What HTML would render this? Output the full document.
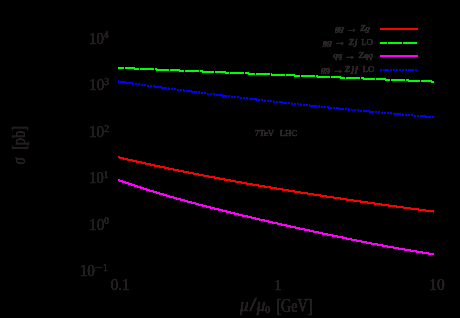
<!DOCTYPE html>
<html><head><meta charset="utf-8"><title>plot</title>
<style>
html,body{margin:0;padding:0;background:#000;}
body{width:460px;height:318px;overflow:hidden;position:relative;font-family:"Liberation Serif",serif;color:#231f20;}
.t{position:absolute;left:0;top:0;white-space:nowrap;line-height:1;transform-origin:0 0;-webkit-text-stroke:0.45px #231f20;}
.t sup{font-size:64%;vertical-align:baseline;position:relative;top:-0.5em;left:0.0em;line-height:0;}
.t sub{font-size:58%;vertical-align:baseline;position:relative;top:0.18em;line-height:0;}
i{font-style:italic}
.ar{display:inline-block;transform:scale(1.3,1.3);margin:0 0.12em 0 0.0em;font-weight:bold}
.sl{display:inline-block;transform:scaleX(1.5);margin:0 0.09em 0 0.12em}
.mn{display:inline-block;transform:scaleX(1.45);margin:0 0.16em 0 0.1em}
.lg i{font-weight:bold}
.lg{word-spacing:0.15em}
</style></head><body>
<svg width="460" height="318" viewBox="0 0 460 318" shape-rendering="crispEdges" style="position:absolute;left:0;top:0"><path fill="#00ff00" d="M118 67h6v2h-6zM125 67h9v2h-9zM134 67h1v3h-1zM135 68h4v2h-4zM140 68h14v2h-14zM155 68h1v2h-1zM156 68h1v3h-1zM157 69h12v2h-12zM170 69h9v2h-9zM179 69h1v3h-1zM180 70h4v2h-4zM185 70h14v2h-14zM200 70h2v2h-2zM202 70h1v3h-1zM203 71h11v2h-11zM215 71h10v2h-10zM225 71h1v3h-1zM226 72h3v2h-3zM230 72h14v2h-14zM245 72h3v2h-3zM248 72h1v3h-1zM249 73h6v2h-6zM256 73h14v2h-14zM271 73h1v3h-1zM272 74h13v2h-13zM286 74h8v2h-8zM294 74h1v3h-1zM295 75h5v2h-5zM301 75h14v2h-14zM316 75h1v2h-1zM317 75h1v3h-1zM318 76h12v2h-12zM331 76h9v2h-9zM340 76h1v3h-1zM341 77h4v2h-4zM346 77h14v2h-14zM361 77h2v2h-2zM363 77h1v3h-1zM364 78h11v2h-11zM376 78h9v2h-9zM385 78h1v3h-1zM386 79h4v2h-4zM391 79h14v2h-14zM406 79h2v2h-2zM408 79h1v3h-1zM409 80h11v2h-11zM421 80h10v2h-10zM431 80h1v3h-1zM432 81h2v2h-2z"/><path fill="#0000ff" d="M118 80h1v3h-1zM120 81h5v2h-5zM125 81h1v3h-1zM126 82h6v2h-6zM132 82h1v3h-1zM133 83h1v2h-1zM135 83h2v2h-2zM138 83h1v2h-1zM139 83h1v3h-1zM141 84h2v2h-2zM144 84h2v2h-2zM147 85h2v2h-2zM150 85h2v2h-2zM153 85h1v2h-1zM154 85h1v3h-1zM155 86h6v2h-6zM161 86h1v3h-1zM162 87h5v2h-5zM168 87h1v3h-1zM169 88h1v2h-1zM171 88h2v2h-2zM174 88h2v2h-2zM177 89h2v2h-2zM180 89h2v2h-2zM183 89h1v3h-1zM184 90h1v2h-1zM186 90h5v2h-5zM191 90h1v3h-1zM192 91h5v2h-5zM198 91h1v2h-1zM199 91h1v3h-1zM201 92h2v2h-2zM204 92h2v2h-2zM207 93h2v2h-2zM210 93h2v2h-2zM213 93h1v2h-1zM214 93h1v3h-1zM216 94h6v2h-6zM222 94h1v3h-1zM223 95h4v2h-4zM228 95h2v2h-2zM231 96h2v2h-2zM234 96h2v2h-2zM237 96h2v2h-2zM240 97h2v2h-2zM243 97h2v2h-2zM246 97h1v2h-1zM247 97h1v3h-1zM249 98h7v2h-7zM256 98h1v3h-1zM258 99h2v2h-2zM261 99h2v2h-2zM264 99h1v3h-1zM265 100h1v2h-1zM267 100h2v2h-2zM270 100h2v2h-2zM273 100h1v3h-1zM274 101h1v2h-1zM276 101h2v2h-2zM279 101h3v2h-3zM282 101h1v3h-1zM283 102h4v2h-4zM288 102h2v2h-2zM291 102h1v3h-1zM292 103h1v2h-1zM294 103h2v2h-2zM297 103h2v2h-2zM300 103h1v3h-1zM301 104h1v2h-1zM303 104h2v2h-2zM306 104h2v2h-2zM309 104h1v3h-1zM310 105h7v2h-7zM318 105h1v2h-1zM319 105h1v3h-1zM321 106h2v2h-2zM324 106h2v2h-2zM327 106h1v2h-1zM328 106h1v3h-1zM330 107h2v2h-2zM333 107h2v2h-2zM336 107h2v2h-2zM338 107h1v3h-1zM339 108h5v2h-5zM345 108h2v2h-2zM348 108h1v3h-1zM349 109h1v2h-1zM351 109h2v2h-2zM354 109h2v2h-2zM357 109h1v2h-1zM358 109h1v3h-1zM360 110h2v2h-2zM363 110h6v2h-6zM369 110h1v3h-1zM370 111h4v2h-4zM375 111h2v2h-2zM378 111h2v2h-2zM381 112h2v2h-2zM384 112h2v2h-2zM387 112h2v2h-2zM390 112h1v2h-1zM391 112h1v3h-1zM393 113h8v2h-8zM402 113h1v3h-1zM403 114h1v2h-1zM405 114h2v2h-2zM408 114h2v2h-2zM411 114h2v2h-2zM414 115h2v2h-2zM417 115h2v2h-2zM420 115h5v2h-5zM425 115h1v3h-1zM426 116h5v2h-5zM432 116h2v2h-2z"/><path fill="#ff0000" d="M118 156h1v2h-1zM119 156h1v3h-1zM120 157h3v2h-3zM123 157h1v3h-1zM124 158h3v2h-3zM127 158h1v3h-1zM128 159h4v2h-4zM132 159h1v3h-1zM133 160h3v2h-3zM136 160h1v3h-1zM137 161h4v2h-4zM141 161h1v3h-1zM142 162h3v2h-3zM145 162h1v3h-1zM146 163h4v2h-4zM150 163h1v3h-1zM151 164h3v2h-3zM154 164h1v3h-1zM155 165h4v2h-4zM159 165h1v3h-1zM160 166h4v2h-4zM164 166h1v3h-1zM165 167h3v2h-3zM168 167h1v3h-1zM169 168h4v2h-4zM173 168h1v3h-1zM174 169h4v2h-4zM178 169h1v3h-1zM179 170h4v2h-4zM183 170h1v3h-1zM184 171h4v2h-4zM188 171h1v3h-1zM189 172h4v2h-4zM193 172h1v3h-1zM194 173h4v2h-4zM198 173h1v3h-1zM199 174h4v2h-4zM203 174h1v3h-1zM204 175h4v2h-4zM208 175h1v3h-1zM209 176h5v2h-5zM214 176h1v3h-1zM215 177h4v2h-4zM219 177h1v3h-1zM220 178h4v2h-4zM224 178h1v3h-1zM225 179h5v2h-5zM230 179h1v3h-1zM231 180h4v2h-4zM235 180h1v3h-1zM236 181h5v2h-5zM241 181h1v3h-1zM242 182h4v2h-4zM246 182h1v3h-1zM247 183h5v2h-5zM252 183h1v3h-1zM253 184h5v2h-5zM258 184h1v3h-1zM259 185h5v2h-5zM264 185h1v3h-1zM265 186h5v2h-5zM270 186h1v3h-1zM271 187h5v2h-5zM276 187h1v3h-1zM277 188h5v2h-5zM282 188h1v3h-1zM283 189h5v2h-5zM288 189h1v3h-1zM289 190h5v2h-5zM294 190h1v3h-1zM295 191h5v2h-5zM300 191h1v3h-1zM301 192h6v2h-6zM307 192h1v3h-1zM308 193h5v2h-5zM313 193h1v3h-1zM314 194h6v2h-6zM320 194h1v3h-1zM321 195h5v2h-5zM326 195h1v3h-1zM327 196h6v2h-6zM333 196h1v3h-1zM334 197h6v2h-6zM340 197h1v3h-1zM341 198h5v2h-5zM346 198h1v3h-1zM347 199h6v2h-6zM353 199h1v3h-1zM354 200h6v2h-6zM360 200h1v3h-1zM361 201h6v2h-6zM367 201h1v3h-1zM368 202h6v2h-6zM374 202h1v3h-1zM375 203h6v2h-6zM381 203h1v3h-1zM382 204h6v2h-6zM388 204h1v3h-1zM389 205h7v2h-7zM396 205h1v3h-1zM397 206h6v2h-6zM403 206h1v3h-1zM404 207h6v2h-6zM410 207h1v3h-1zM411 208h7v2h-7zM418 208h1v3h-1zM419 209h6v2h-6zM425 209h1v3h-1zM426 210h7v2h-7zM433 210h1v3h-1z"/><path fill="#ff00ff" d="M118 179h1v2h-1zM119 179h1v3h-1zM120 180h2v2h-2zM122 180h1v3h-1zM123 181h2v2h-2zM125 181h1v3h-1zM126 182h2v2h-2zM128 182h1v3h-1zM129 183h2v2h-2zM131 183h1v3h-1zM132 184h2v2h-2zM134 184h1v3h-1zM135 185h2v2h-2zM137 185h1v3h-1zM138 186h2v2h-2zM140 186h1v3h-1zM141 187h2v2h-2zM143 187h1v3h-1zM144 188h2v2h-2zM146 188h1v3h-1zM147 189h2v2h-2zM149 189h1v3h-1zM150 190h3v2h-3zM153 190h1v3h-1zM154 191h2v2h-2zM156 191h1v3h-1zM157 192h2v2h-2zM159 192h1v3h-1zM160 193h3v2h-3zM163 193h1v3h-1zM164 194h2v2h-2zM166 194h1v3h-1zM167 195h2v2h-2zM169 195h1v3h-1zM170 196h3v2h-3zM173 196h1v3h-1zM174 197h2v2h-2zM176 197h1v3h-1zM177 198h3v2h-3zM180 198h1v3h-1zM181 199h3v2h-3zM184 199h1v3h-1zM185 200h2v2h-2zM187 200h1v3h-1zM188 201h3v2h-3zM191 201h1v3h-1zM192 202h3v2h-3zM195 202h1v3h-1zM196 203h2v2h-2zM198 203h1v3h-1zM199 204h3v2h-3zM202 204h1v3h-1zM203 205h3v2h-3zM206 205h1v3h-1zM207 206h3v2h-3zM210 206h1v3h-1zM211 207h3v2h-3zM214 207h1v3h-1zM215 208h3v2h-3zM218 208h1v3h-1zM219 209h3v2h-3zM222 209h1v3h-1zM223 210h3v2h-3zM226 210h1v3h-1zM227 211h3v2h-3zM230 211h1v3h-1zM231 212h3v2h-3zM234 212h1v3h-1zM235 213h3v2h-3zM238 213h1v3h-1zM239 214h3v2h-3zM242 214h1v3h-1zM243 215h4v2h-4zM247 215h1v3h-1zM248 216h3v2h-3zM251 216h1v3h-1zM252 217h3v2h-3zM255 217h1v3h-1zM256 218h3v2h-3zM259 218h1v3h-1zM260 219h4v2h-4zM264 219h1v3h-1zM265 220h3v2h-3zM268 220h1v3h-1zM269 221h3v2h-3zM272 221h1v3h-1zM273 222h4v2h-4zM277 222h1v3h-1zM278 223h3v2h-3zM281 223h1v3h-1zM282 224h4v2h-4zM286 224h1v3h-1zM287 225h3v2h-3zM290 225h1v3h-1zM291 226h4v2h-4zM295 226h1v3h-1zM296 227h3v2h-3zM299 227h1v3h-1zM300 228h4v2h-4zM304 228h1v3h-1zM305 229h4v2h-4zM309 229h1v3h-1zM310 230h3v2h-3zM313 230h1v3h-1zM314 231h4v2h-4zM318 231h1v3h-1zM319 232h3v2h-3zM322 232h1v3h-1zM323 233h4v2h-4zM327 233h1v3h-1zM328 234h4v2h-4zM332 234h1v3h-1zM333 235h4v2h-4zM337 235h1v3h-1zM338 236h4v2h-4zM342 236h1v3h-1zM343 237h3v2h-3zM346 237h1v3h-1zM347 238h4v2h-4zM351 238h1v3h-1zM352 239h4v2h-4zM356 239h1v3h-1zM357 240h4v2h-4zM361 240h1v3h-1zM362 241h4v2h-4zM366 241h1v3h-1zM367 242h4v2h-4zM371 242h1v3h-1zM372 243h5v2h-5zM377 243h1v3h-1zM378 244h4v2h-4zM382 244h1v3h-1zM383 245h4v2h-4zM387 245h1v3h-1zM388 246h5v2h-5zM393 246h1v3h-1zM394 247h4v2h-4zM398 247h1v3h-1zM399 248h5v2h-5zM404 248h1v3h-1zM405 249h5v2h-5zM410 249h1v3h-1zM411 250h5v2h-5zM416 250h1v3h-1zM417 251h5v2h-5zM422 251h1v3h-1zM423 252h5v2h-5zM428 252h1v3h-1zM429 253h5v2h-5z"/><rect x="380" y="28" width="38" height="2" fill="#ff0000"/><rect x="380" y="42" width="7" height="2" fill="#00ff00"/><rect x="388" y="42" width="14" height="2" fill="#00ff00"/><rect x="403" y="42" width="14" height="2" fill="#00ff00"/><rect x="380" y="55" width="38" height="2" fill="#ff00ff"/><rect x="380" y="69" width="2" height="2" fill="#0000ff"/><rect x="383" y="69" width="6" height="2" fill="#0000ff"/><rect x="390" y="69" width="2" height="2" fill="#0000ff"/><rect x="393" y="69" width="2" height="2" fill="#0000ff"/><rect x="396" y="69" width="2" height="2" fill="#0000ff"/><rect x="399" y="69" width="2" height="2" fill="#0000ff"/><rect x="402" y="69" width="2" height="2" fill="#0000ff"/><rect x="405" y="69" width="2" height="2" fill="#0000ff"/><rect x="408" y="69" width="6" height="2" fill="#0000ff"/><rect x="415" y="69" width="2" height="2" fill="#0000ff"/></svg>
<svg width="0" height="0" style="position:absolute"><filter id="sh" x="0" y="0" width="100%" height="100%" color-interpolation-filters="sRGB"><feComponentTransfer><feFuncA type="linear" slope="2.4" intercept="-0.3"/></feComponentTransfer></filter></svg><div style="position:absolute;left:0;top:0;width:460px;height:318px;filter:url(#sh)"><div class="t" id="y4" style="font-size:17.5px;transform:translate(89.04px,30.93px)  scale(0.8452,0.9361);">10<sup>4</sup></div><div class="t" id="y3" style="font-size:17.5px;transform:translate(89.17px,77.54px)  scale(0.8555,0.9185);">10<sup>3</sup></div><div class="t" id="y2" style="font-size:17.5px;transform:translate(89.03px,123.98px)  scale(0.8679,0.9423);">10<sup>2</sup></div><div class="t" id="y1" style="font-size:17.5px;transform:translate(89.16px,170.24px)  scale(0.83,0.9111);">10<sup>1</sup></div><div class="t" id="y0" style="font-size:17.5px;transform:translate(89.07px,216.95px)  scale(0.8683,0.9294);">10<sup>0</sup></div><div class="t" id="ym1" style="font-size:17.5px;transform:translate(79.76px,263.6px)  scale(0.8682,0.9178);">10<sup><span class="mn">−</span>1</sup></div><div class="t" id="x01" style="font-size:17.5px;transform:translate(110.7px,277.36px)  scale(0.8691,0.8966);">0.1</div><div class="t" id="x1" style="font-size:17.5px;transform:translate(274.24px,277.9px)  scale(0.8469,0.8526);">1</div><div class="t" id="x10" style="font-size:17.5px;transform:translate(429.24px,277.3px)  scale(0.8896,0.9045);">10</div><div class="t" id="xla" style="font-size:17.5px;transform:translate(240.1px,296.5px)  scale(0.9663,1.0214);"><i>μ</i><span class="sl">/</span><i>μ</i><sub>0</sub></div><div class="t" id="xlb" style="font-size:17.5px;transform:translate(276.41px,297.2px)  scale(0.8087,1.0917);">[GeV]</div><div class="t" id="yl" style="font-size:17.5px;transform:translate(9.81px,164.4px) rotate(-90deg) scale(0.826,1.0577);"><i>σ</i><span style="display:inline-block;width:0.5em"></span>[pb]</div><div class="t" id="lhc" style="font-size:8px;transform:translate(254.86px,129.93px)  scale(1.0944,0.9644);color:#2a2627;-webkit-text-stroke:0.45px #2a2627;word-spacing:0.4em;">7TeV LHC</div><div class="t lg" id="l1" style="font-size:8.5px;transform:translate(335.2px,24.88px)  scale(1.0116,0.8885);color:#2a2627;-webkit-text-stroke:0.4px #2a2627;"><i>gg</i> <span class="ar">→</span> <i>Zg</i></div><div class="t lg" id="l2" style="font-size:8.5px;transform:translate(323.07px,38.3px)  scale(1.0344,0.9199);color:#2a2627;-webkit-text-stroke:0.4px #2a2627;"><i>gg</i> <span class="ar">→</span> <i style="letter-spacing:0.06em">Zj</i> LO</div><div class="t lg" id="l3" style="font-size:8.5px;transform:translate(333.41px,51.31px)  scale(1.023,0.9407);color:#2a2627;-webkit-text-stroke:0.4px #2a2627;"><i>qq</i> <span class="ar">→</span> <i>Zqq</i></div><div class="t lg" id="l4" style="font-size:8.5px;transform:translate(321.18px,65.48px)  scale(1.0551,0.9199);color:#2a2627;-webkit-text-stroke:0.4px #2a2627;"><i>gg</i> <span class="ar">→</span><i style="letter-spacing:0.14em;margin-left:0.1em">Zjj</i> LO</div></div>
</body></html>
